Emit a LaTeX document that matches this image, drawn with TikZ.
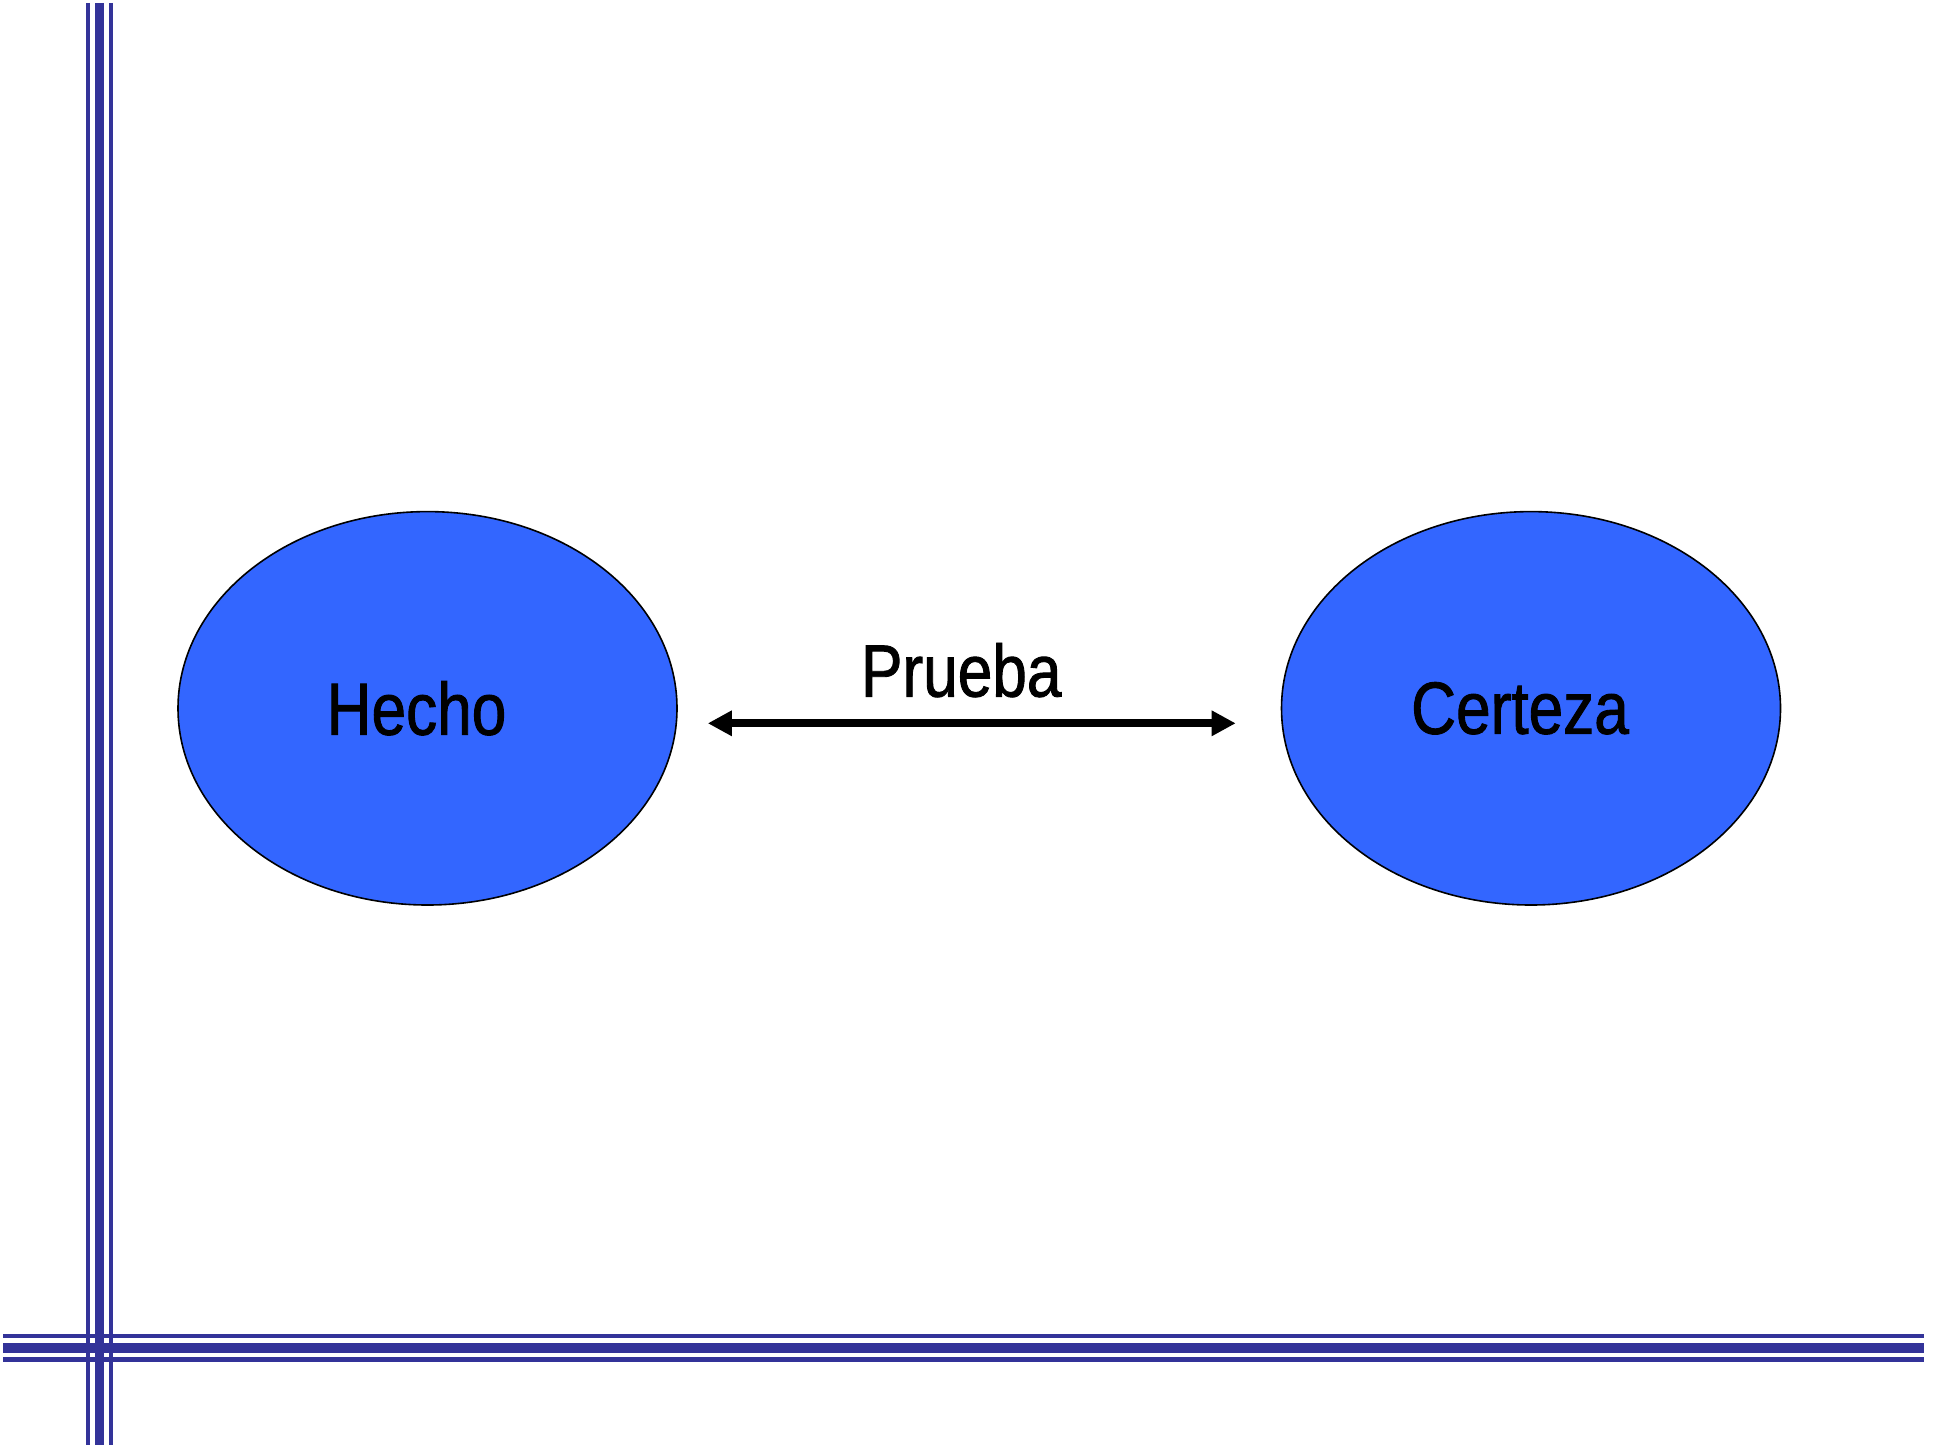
\documentclass[tikz,border=0pt]{standalone}
\usepackage{fontspec}
\setmainfont[FakeStretch=0.84, FakeBold=1.2]{Liberation Sans}
\usetikzlibrary{shapes.geometric, arrows.meta}
\definecolor{borderblue}{RGB}{51,51,153}
\definecolor{ovalblue}{RGB}{51,102,255}

\begin{document}
\begin{tikzpicture}[
    x = 0.5pt, y = -0.5pt,
      oval/.style={draw=black, line width=0.8pt, fill=ovalblue, ellipse, inner sep=0pt, minimum width=249.5pt, minimum height=196.7pt, font=\fontsize{37}{44}\selectfont, execute at end node={\hspace{11pt}}},
      label/.style={inner sep=0pt, font=\fontsize{37}{44}\selectfont},
      thinline/.style={draw=borderblue, line width=2.4pt},
      thickline/.style={draw=borderblue, line width=4.7pt},
      arrow/.style={{Triangle[length=12pt, width=12pt]}-{Triangle[length=12pt, width=12pt]}, line width=4pt, color=black}
  ]
      \useasboundingbox (0, 0) rectangle (1948, 1445);

      % Border lines
      \draw[thinline] (88, 3) -- (88, 1445);
      \draw[thickline] (99.7, 3) -- (99.7, 1445);
      \draw[thinline] (111, 3) -- (111, 1445);
      \draw[thinline] (3, 1336) -- (1924, 1336);
      \draw[thickline] (3, 1348) -- (1924, 1348);
      \draw[thinline] (3, 1359.5) -- (1924, 1359.5);

      % Hecho
      \node (hecho) at (427.5, 708.3) [oval] {Hecho};

      % Certeza
      \node (certeza) at (1531, 708.3) [oval] {Certeza};

      % Arrow
      \draw[arrow, shorten <=15pt, shorten >=22.5pt] ([yshift=-7.5pt]hecho.east) -- ([yshift=-7.5pt]certeza.west)
          node[midway, above=11pt, xshift=-9pt, label] {Prueba};
  \end{tikzpicture}
\end{document}
